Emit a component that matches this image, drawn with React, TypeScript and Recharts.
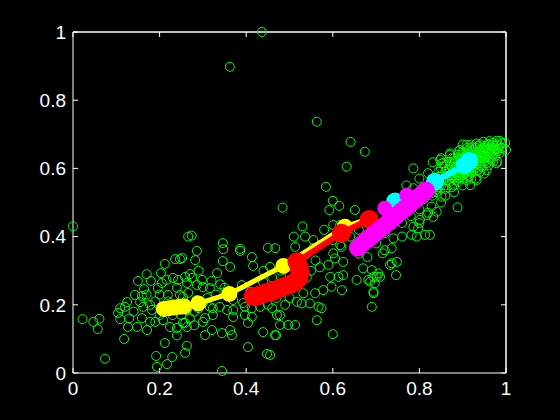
import { ScatterChart, Scatter, XAxis, YAxis, ReferenceLine } from 'recharts'

const ticks = [0, 0.2, 0.4, 0.6, 0.8, 1]

// hollow green markers (the raw cloud)
const cloud: [number, number][] = [
  [0.0, 0.43], [0.022, 0.158], [0.047, 0.15], [0.061, 0.159], [0.057, 0.129], [0.074, 0.042],
  [0.104, 0.176], [0.109, 0.158], [0.109, 0.19], [0.12, 0.194], [0.125, 0.208], [0.118, 0.1],
  [0.127, 0.135], [0.148, 0.135], [0.171, 0.126], [0.143, 0.229], [0.164, 0.246], [0.159, 0.226],
  [0.155, 0.208], [0.162, 0.194], [0.178, 0.2], [0.182, 0.185], [0.159, 0.161], [0.178, 0.15],
  [0.196, 0.249], [0.205, 0.264], [0.203, 0.293], [0.212, 0.32], [0.236, 0.334], [0.247, 0.334],
  [0.216, 0.273], [0.231, 0.279], [0.243, 0.273], [0.259, 0.282], [0.219, 0.229], [0.247, 0.229],
  [0.266, 0.235], [0.266, 0.4], [0.208, 0.155], [0.224, 0.135], [0.24, 0.132], [0.259, 0.147],
  [0.212, 0.088], [0.192, 0.05], [0.229, 0.047], [0.217, 0.026], [0.194, 0.018], [0.259, 0.059],
  [0.263, 0.08], [0.274, 0.403], [0.346, 0.381], [0.347, 0.363], [0.286, 0.358], [0.282, 0.331],
  [0.386, 0.364], [0.386, 0.358], [0.346, 0.328], [0.363, 0.311], [0.413, 0.34], [0.416, 0.314],
  [0.45, 0.367], [0.455, 0.311], [0.252, 0.337], [0.333, 0.293], [0.39, 0.258], [0.409, 0.238],
  [0.439, 0.267], [0.37, 0.214], [0.393, 0.205], [0.413, 0.19], [0.432, 0.194], [0.45, 0.2],
  [0.37, 0.164], [0.397, 0.17], [0.404, 0.147], [0.305, 0.161], [0.323, 0.17], [0.471, 0.17],
  [0.321, 0.126], [0.344, 0.117], [0.367, 0.111], [0.305, 0.111], [0.439, 0.12], [0.466, 0.111],
  [0.404, 0.076], [0.448, 0.056], [0.344, 0.006], [0.286, 0.214], [0.3, 0.205], [0.316, 0.194],
  [0.323, 0.19], [0.339, 0.194], [0.356, 0.185], [0.254, 0.223], [0.259, 0.205], [0.263, 0.185],
  [0.254, 0.147], [0.263, 0.135], [0.263, 0.264], [0.286, 0.258], [0.3, 0.252], [0.316, 0.249],
  [0.275, 0.279], [0.298, 0.273], [0.363, 0.126], [0.37, 0.185], [0.397, 0.194], [0.413, 0.165],
  [0.19, 0.21], [0.2, 0.17], [0.23, 0.17], [0.25, 0.17], [0.27, 0.16], [0.28, 0.18],
  [0.29, 0.19], [0.31, 0.22], [0.33, 0.23], [0.34, 0.26], [0.27, 0.29], [0.29, 0.3],
  [0.32, 0.27], [0.35, 0.25], [0.24, 0.25], [0.14, 0.18], [0.13, 0.16], [0.15, 0.27],
  [0.17, 0.29], [0.18, 0.27], [0.2, 0.23], [0.22, 0.21], [0.3, 0.15], [0.28, 0.14],
  [0.24, 0.11], [0.17, 0.23], [0.19, 0.15],
  [0.584, 0.546], [0.484, 0.485], [0.6, 0.505], [0.592, 0.478], [0.615, 0.49], [0.651, 0.478],
  [0.601, 0.434], [0.617, 0.434], [0.536, 0.4], [0.555, 0.39], [0.513, 0.37], [0.555, 0.366],
  [0.57, 0.375], [0.617, 0.375], [0.601, 0.351], [0.605, 0.336], [0.59, 0.317], [0.624, 0.326],
  [0.467, 0.366], [0.594, 0.282], [0.613, 0.282], [0.624, 0.287], [0.621, 0.243], [0.597, 0.253],
  [0.578, 0.243], [0.559, 0.234], [0.67, 0.307], [0.69, 0.302], [0.682, 0.273], [0.701, 0.282],
  [0.694, 0.238], [0.655, 0.273], [0.532, 0.234], [0.517, 0.209], [0.528, 0.204], [0.547, 0.204],
  [0.567, 0.194], [0.574, 0.19], [0.563, 0.155], [0.478, 0.17], [0.478, 0.141], [0.497, 0.141],
  [0.513, 0.141], [0.469, 0.111], [0.6, 0.114], [0.455, 0.053], [0.69, 0.194],
  [0.563, 0.737], [0.641, 0.678], [0.674, 0.649], [0.632, 0.605], [0.436, 1.0], [0.362, 0.898],
  [0.46, 0.28], [0.48, 0.3], [0.5, 0.29], [0.44, 0.3], [0.47, 0.22], [0.5, 0.22],
  [0.49, 0.2], [0.46, 0.19], [0.54, 0.28], [0.55, 0.3], [0.57, 0.31], [0.56, 0.33],
  [0.6, 0.39], [0.58, 0.42], [0.54, 0.35], [0.64, 0.4], [0.66, 0.42], [0.62, 0.37],
  [0.53, 0.43], [0.51, 0.4],
  [0.786, 0.6], [0.831, 0.618], [0.848, 0.625], [0.82, 0.586], [0.844, 0.59], [0.786, 0.542],
  [0.888, 0.486], [0.828, 0.488], [0.84, 0.473], [0.832, 0.458], [0.817, 0.463], [0.801, 0.449],
  [0.786, 0.429], [0.797, 0.424], [0.782, 0.405], [0.794, 0.4], [0.813, 0.405], [0.824, 0.405],
  [0.74, 0.395], [0.736, 0.366], [0.715, 0.351], [0.748, 0.326], [0.736, 0.322], [0.732, 0.317],
  [0.746, 0.287], [0.705, 0.292], [0.694, 0.282], [0.709, 0.282], [0.686, 0.268], [0.697, 0.263],
  [0.694, 0.234],
  [0.7, 0.38], [0.72, 0.41], [0.76, 0.44], [0.78, 0.46], [0.8, 0.48], [0.81, 0.51],
  [0.75, 0.47], [0.69, 0.43], [0.66, 0.35], [0.68, 0.34], [0.72, 0.36], [0.76, 0.4],
  [0.8, 0.44], [0.82, 0.47], [0.85, 0.5], [0.86, 0.52], [0.84, 0.53], [0.83, 0.55],
  [0.8, 0.57], [0.77, 0.55],
  [0.86, 0.57], [0.87, 0.56], [0.87, 0.58], [0.88, 0.57], [0.88, 0.59], [0.88, 0.55],
  [0.89, 0.58], [0.89, 0.6], [0.89, 0.56], [0.9, 0.57], [0.9, 0.59], [0.9, 0.61],
  [0.9, 0.63], [0.91, 0.58], [0.91, 0.6], [0.91, 0.62], [0.91, 0.64], [0.92, 0.59],
  [0.92, 0.61], [0.92, 0.63], [0.92, 0.65], [0.93, 0.6], [0.93, 0.62], [0.93, 0.64],
  [0.93, 0.66], [0.94, 0.61], [0.94, 0.63], [0.94, 0.65], [0.94, 0.67], [0.95, 0.62],
  [0.95, 0.64], [0.95, 0.66], [0.96, 0.63], [0.96, 0.65], [0.96, 0.67], [0.97, 0.64],
  [0.97, 0.66], [0.98, 0.65], [0.98, 0.67], [0.99, 0.66], [0.85, 0.58], [0.85, 0.6],
  [0.86, 0.61], [0.87, 0.62], [0.88, 0.63], [0.89, 0.64], [0.9, 0.65], [0.91, 0.66],
  [0.92, 0.67], [0.87, 0.6], [0.86, 0.59], [0.84, 0.56], [0.83, 0.57], [0.85, 0.55],
  [0.86, 0.54], [0.88, 0.53], [0.9, 0.55], [0.92, 0.57], [0.94, 0.59], [0.96, 0.61],
  [0.97, 0.62], [0.895, 0.615], [0.905, 0.595], [0.915, 0.575], [0.925, 0.595], [0.935, 0.615],
  [0.945, 0.635], [0.955, 0.655], [0.965, 0.645], [0.975, 0.655], [0.875, 0.605], [0.865, 0.585],
  [0.855, 0.565], [0.845, 0.575], [0.835, 0.545], [0.82, 0.53], [0.83, 0.52],
  [0.894, 0.654], [0.932, 0.673], [0.948, 0.678], [0.978, 0.681], [0.998, 0.675], [0.986, 0.681],
  [0.962, 0.68], [0.87, 0.64], [0.85, 0.63], [0.851, 0.615], [0.828, 0.527], [0.851, 0.517],
  [0.932, 0.566], [0.917, 0.551], [0.909, 0.566], [0.955, 0.595], [0.978, 0.615], [1.0, 0.654],
  [0.871, 0.644], [0.909, 0.669], [0.855, 0.615], [0.93, 0.57], [0.95, 0.585], [0.98, 0.62],
  [0.865, 0.565], [0.875, 0.575], [0.885, 0.585], [0.895, 0.595], [0.905, 0.605], [0.915, 0.615],
  [0.925, 0.625], [0.935, 0.635], [0.945, 0.645], [0.955, 0.635], [0.965, 0.625], [0.975, 0.635],
  [0.985, 0.645], [0.885, 0.605], [0.895, 0.625], [0.905, 0.635], [0.915, 0.645], [0.925, 0.655],
  [0.935, 0.665], [0.945, 0.655], [0.955, 0.665], [0.875, 0.545], [0.885, 0.565], [0.895, 0.575],
  [0.905, 0.585], [0.915, 0.595], [0.925, 0.605], [0.935, 0.595], [0.945, 0.605], [0.955, 0.615],
  [0.965, 0.665], [0.97, 0.675], [0.99, 0.675], [0.985, 0.665], [0.88, 0.615], [0.87, 0.595],
  [0.86, 0.55], [0.845, 0.545], [0.84, 0.54], [0.875, 0.63], [0.89, 0.65], [0.9, 0.67],
  [0.882, 0.578], [0.892, 0.588], [0.902, 0.598], [0.912, 0.608], [0.922, 0.618], [0.932, 0.628],
  [0.942, 0.638], [0.952, 0.648], [0.962, 0.658], [0.972, 0.668], [0.878, 0.592], [0.888, 0.602],
  [0.898, 0.612], [0.908, 0.622], [0.918, 0.632], [0.928, 0.642], [0.938, 0.652], [0.948, 0.662],
  [0.958, 0.672], [0.892, 0.572], [0.902, 0.582], [0.912, 0.592], [0.922, 0.602], [0.932, 0.612],
  [0.942, 0.622], [0.952, 0.632], [0.962, 0.642], [0.972, 0.652], [0.982, 0.658], [0.868, 0.578],
  [0.872, 0.612], [0.882, 0.622], [0.892, 0.632], [0.902, 0.642], [0.912, 0.652], [0.922, 0.662],
]

// the four fitted tracks
const yellowTrack: [number, number][] = [
  [0.21, 0.188], [0.222, 0.19], [0.234, 0.192], [0.246, 0.194], [0.256, 0.195],
  [0.289, 0.204], [0.361, 0.232], [0.486, 0.314], [0.628, 0.429], [0.682, 0.452],
]
const redTrack: [number, number][] = [
  [0.416, 0.224], [0.425, 0.226], [0.435, 0.23], [0.445, 0.235], [0.455, 0.238],
  [0.465, 0.242], [0.475, 0.247], [0.485, 0.252], [0.495, 0.257], [0.505, 0.262],
  [0.515, 0.268], [0.522, 0.28], [0.524, 0.295], [0.522, 0.31], [0.517, 0.326],
  [0.62, 0.41], [0.684, 0.45],
]
const cyanTrack: [number, number][] = [
  [0.744, 0.503], [0.752, 0.495], [0.836, 0.561], [0.905, 0.61], [0.915, 0.622],
]
const magentaTrack: [number, number][] = [
  [0.658, 0.368], [0.668, 0.379], [0.678, 0.39], [0.688, 0.4], [0.698, 0.41],
  [0.708, 0.421], [0.718, 0.431], [0.728, 0.442], [0.738, 0.453], [0.748, 0.463],
  [0.758, 0.474], [0.768, 0.484], [0.778, 0.495], [0.788, 0.506], [0.798, 0.516],
  [0.808, 0.527], [0.815, 0.535],
]
const magentaBumps: [number, number][] = [[0.72, 0.483], [0.771, 0.522]]

const pts = (arr: [number, number][]) => arr.map(([x, y]) => ({ x, y }))

const font = { fill: '#fff', fontSize: 19, fontFamily: '"Liberation Sans", Arial, sans-serif' }

function dot(color: string, r: number) {
  return (p: any) => <circle cx={p.cx} cy={p.cy} r={r} fill={color} />
}

export default function App() {
  return (
    <div style={{ position: 'absolute', left: 0, top: 0, width: 560, height: 420, background: '#000' }}>
      <ScatterChart width={560} height={420} margin={{ top: 31, right: 53, bottom: 0, left: 0 }}>
        <XAxis
          xAxisId="b"
          type="number"
          dataKey="x"
          domain={[0, 1]}
          ticks={ticks}
          height={47}
          stroke="#fff"
          tick={font}
          tickSize={-5}
          tickMargin={14}
        />
        <XAxis
          xAxisId="t"
          orientation="top"
          type="number"
          dataKey="x"
          domain={[0, 1]}
          ticks={ticks}
          height={1}
          stroke="#fff"
          tickFormatter={() => ''}
          tickSize={-5}
        />
        <YAxis
          yAxisId="l"
          type="number"
          dataKey="y"
          domain={[0, 1]}
          ticks={ticks}
          width={73}
          stroke="#fff"
          tick={font}
          tickSize={-5}
          tickMargin={12}
        />
        <YAxis
          yAxisId="r"
          orientation="right"
          type="number"
          dataKey="y"
          domain={[0, 1]}
          ticks={ticks}
          width={1}
          stroke="#fff"
          tickFormatter={() => ''}
          tickSize={-5}
        />
        {/* invisible series so the top/right frame axes get a domain */}
        <Scatter
          xAxisId="t"
          yAxisId="r"
          data={pts(cloud)}
          isAnimationActive={false}
          shape={() => <g />}
        />
        <Scatter
          xAxisId="b"
          yAxisId="l"
          data={pts(cloud)}
          isAnimationActive={false}
          shape={(p: any) => <circle cx={p.cx} cy={p.cy} r={4.5} fill="none" stroke="#00ff00" strokeWidth={1} />}
        />
        <Scatter
          xAxisId="b"
          yAxisId="l"
          data={pts(yellowTrack)}
          isAnimationActive={false}
          line={{ stroke: '#ffff00', strokeWidth: 5 }}
          shape={dot('#ffff00', 8)}
        />
        <Scatter
          xAxisId="b"
          yAxisId="l"
          data={pts(redTrack)}
          isAnimationActive={false}
          line={{ stroke: '#ff0000', strokeWidth: 6 }}
          shape={dot('#ff0000', 9.5)}
        />
        <Scatter
          xAxisId="b"
          yAxisId="l"
          data={pts(cyanTrack)}
          isAnimationActive={false}
          line={{ stroke: '#00ffff', strokeWidth: 6 }}
          shape={dot('#00ffff', 9)}
        />
        <Scatter
          xAxisId="b"
          yAxisId="l"
          data={pts(magentaTrack)}
          isAnimationActive={false}
          line={{ stroke: '#ff00ff', strokeWidth: 6 }}
          shape={dot('#ff00ff', 9)}
        />
        <Scatter
          xAxisId="b"
          yAxisId="l"
          data={pts(magentaBumps)}
          isAnimationActive={false}
          shape={dot('#ff00ff', 7.5)}
        />
        <ReferenceLine xAxisId="b" yAxisId="l" x={1} stroke="#fff" ifOverflow="visible" />
        <ReferenceLine xAxisId="b" yAxisId="l" y={1} stroke="#fff" ifOverflow="visible" />
      </ScatterChart>
    </div>
  )
}
